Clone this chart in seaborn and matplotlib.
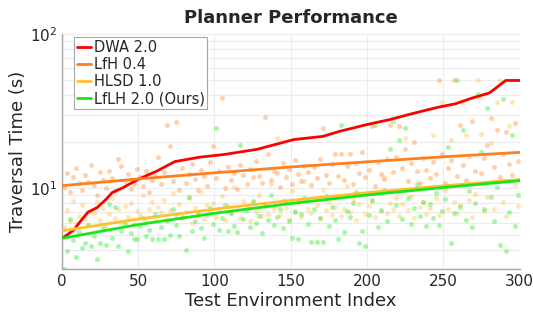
import numpy as np
import pandas as pd
import matplotlib
matplotlib.use("Agg")
import matplotlib.pyplot as plt
import seaborn as sns
from matplotlib.ticker import NullFormatter

# scatter samples (every 2nd environment)
env_idx = np.arange(1, 300, 2)

lfh_times = [10.2, 12.5, 9.4, 11.8, 13.6, 10.8, 9.8, 12.2, 11.0, 14.2,
             10.5, 9.1, 12.8, 11.3, 10.0, 13.0, 11.6, 9.6, 15.6, 13.9,
             11.2, 12.4, 9.9, 10.7, 13.3, 11.9, 10.3, 12.9, 9.5, 11.4,
             12.1, 16.0, 10.6, 12.7, 25.9, 18.7, 11.1, 27.0, 9.8, 13.5,
             10.9, 12.3, 14.4, 11.5, 9.7, 13.1, 12.0, 10.4, 14.8, 18.7,
             11.7, 12.9, 38.7, 10.1, 13.8, 11.3, 12.5, 9.9, 14.1, 12.2,
             10.6, 13.4, 11.8, 15.0, 12.1, 10.8, 29.1, 16.6, 11.4, 13.0,
             12.6, 10.2, 14.6, 11.9, 13.3, 10.7, 15.2, 12.4, 11.1, 14.0,
             12.8, 10.5, 13.7, 11.6, 15.4, 24.7, 12.2, 10.9, 14.3, 16.6,
             12.0, 16.6, 11.3, 13.9, 16.6, 10.6, 14.7, 12.5, 17.1, 11.8,
             13.2, 25.2, 10.4, 14.9, 12.3, 11.5, 15.6, 25.9, 12.7, 16.0,
             25.2, 13.6, 17.9, 11.2, 14.5, 20.0, 12.9, 10.8, 15.8, 13.1,
             11.7, 14.8, 12.4, 50.0, 16.6, 10.9, 13.5, 15.3, 50.0, 12.1,
             25.9, 14.2, 11.4, 16.3, 27.5, 13.0, 39.0, 12.6, 15.7, 19.2,
             28.7, 13.8, 24.0, 11.9, 16.8, 23.3, 14.4, 12.2, 26.7, 15.1]

hlsd_times = [5.6, 7.2, 6.1, 8.3, 5.9, 6.6, 7.8, 6.3, 5.8, 7.0,
              6.9, 8.1, 6.2, 7.5, 5.7, 6.8, 8.6, 6.4, 7.3, 6.0,
              7.7, 6.5, 8.0, 5.9, 7.1, 6.7, 9.0, 6.2, 7.4, 8.2,
              6.3, 7.6, 6.9, 8.4, 6.1, 7.2, 9.3, 6.6, 7.9, 6.4,
              7.0, 8.7, 6.0, 7.5, 6.8, 9.5, 6.3, 7.8, 7.1, 8.0,
              6.5, 7.4, 8.9, 6.2, 7.7, 6.9, 10.2, 7.2, 6.4, 8.3,
              7.6, 6.1, 8.1, 7.0, 9.1, 6.6, 7.9, 6.8, 10.6, 7.3,
              21.3, 6.7, 8.4, 7.5, 6.3, 9.6, 7.1, 8.0, 6.5, 11.2,
              7.4, 6.9, 8.6, 7.8, 6.4, 9.8, 7.2, 8.2, 6.7, 7.6,
              8.8, 6.6, 7.3, 10.4, 7.0, 8.5, 6.2, 7.9, 9.2, 6.8,
              7.7, 8.3, 6.5, 9.4, 7.1, 11.8, 6.9, 8.0, 7.4, 8.7,
              6.6, 7.9, 21.3, 7.2, 8.9, 6.4, 10.1, 7.6, 8.2, 6.8,
              7.5, 22.0, 8.6, 6.7, 36.4, 9.7, 7.3, 20.7, 8.1, 6.9,
              7.8, 35.9, 22.0, 8.4, 6.5, 9.2, 50.0, 22.6, 7.1, 8.8,
              19.8, 7.4, 36.4, 50.0, 8.1, 6.6, 25.2, 36.4, 10.5, 7.7]

lflh_times = [3.0, 3.9, 6.3, 4.6, 3.6, 5.2, 4.1, 4.4, 5.8, 4.2,
              4.9, 3.5, 4.4, 5.5, 4.3, 7.9, 4.8, 7.6, 4.2, 5.3,
              6.0, 3.9, 5.1, 4.7, 4.7, 5.7, 6.4, 4.9, 5.4, 4.7,
              6.8, 4.7, 5.6, 4.7, 6.2, 5.0, 7.3, 5.8, 4.9, 6.5,
              4.0, 8.8, 5.3, 6.1, 7.0, 5.5, 4.8, 6.7, 7.5, 5.9,
              24.7, 5.4, 6.4, 7.8, 5.3, 6.9, 5.7, 5.2, 19.2, 6.3,
              7.2, 5.6, 8.3, 6.0, 6.6, 5.1, 7.7, 6.2, 9.0, 5.8,
              6.5, 7.4, 5.5, 8.1, 6.1, 4.8, 7.0, 4.7, 6.8, 8.6,
              5.9, 4.5, 7.3, 4.5, 6.4, 4.5, 8.9, 5.7, 7.6, 6.2,
              4.7, 25.9, 5.2, 7.1, 6.5, 8.0, 9.5, 4.4, 5.3, 4.2,
              6.7, 8.4, 25.9, 5.6, 7.2, 9.8, 6.1, 17.9, 27.5, 7.8,
              20.7, 6.3, 24.7, 8.7, 5.9, 7.5, 10.6, 6.6, 8.2, 5.7,
              7.9, 6.4, 9.3, 5.8, 7.1, 8.5, 18.4, 4.4, 6.9, 50.0,
              7.6, 24.0, 6.2, 9.6, 5.6, 8.0, 41.0, 17.1, 7.3, 33.3,
              8.8, 6.1, 10.2, 4.3, 38.0, 3.9, 7.0, 22.0, 5.7, 9.1]

# DWA sorted traversal time curve
dwa_idx = [1, 8, 12, 17, 23, 29, 33, 40, 46, 53, 62, 74, 90, 107, 128, 152,
           171, 182, 200, 215, 227, 236, 247, 258, 269, 280, 283, 291, 300]
dwa_val = [4.8, 5.4, 6.1, 7.0, 7.5, 8.5, 9.4, 10.1, 10.9, 11.8, 12.9, 14.9,
           15.9, 16.6, 17.9, 20.7, 21.7, 23.4, 25.9, 27.9, 30.0, 31.6, 33.6,
           35.3, 38.5, 41.4, 43.5, 50.0, 50.0]

# trend lines of the other planners
fit_idx = [0, 50, 100, 150, 200, 250, 300]
lfh_fit = [10.4, 11.5, 12.6, 13.75, 14.85, 16.0, 17.1]
hlsd_fit = [5.3, 6.32, 7.33, 8.35, 9.37, 10.38, 11.4]
lflh_fit = [4.74, 5.82, 6.89, 7.97, 9.05, 10.12, 11.2]

c_red = "#ff0000"
c_orange = "#ff7f1f"
c_yellow = "#ffbf33"
c_green = "#19e619"

sns.set_style("white")
plt.rcParams["font.family"] = ["DejaVu Sans"]

fig, ax = plt.subplots(figsize=(5.33, 3.16), dpi=100)
fig.subplots_adjust(left=0.1163, right=0.9747, bottom=0.1487, top=0.8924)

for vals, col in [(lfh_times, c_orange), (hlsd_times, c_yellow), (lflh_times, c_green)]:
    sns.scatterplot(x=env_idx, y=vals, color=col, alpha=0.36, s=13,
                    linewidth=0, legend=False, ax=ax, zorder=2)

sns.lineplot(x=dwa_idx, y=dwa_val, color=c_red, lw=2, label="DWA 2.0", ax=ax, zorder=4)
sns.lineplot(x=fit_idx, y=lfh_fit, color=c_orange, lw=2, label="LfH 0.4", ax=ax, zorder=4)
sns.lineplot(x=fit_idx, y=hlsd_fit, color=c_yellow, lw=2, label="HLSD 1.0", ax=ax, zorder=4)
sns.lineplot(x=fit_idx, y=lflh_fit, color=c_green, lw=2, label="LfLH 2.0 (Ours)", ax=ax, zorder=4)

ax.set_yscale("log")
ax.set_ylim(3, 100)
ax.set_xlim(0, 300)
ax.set_xticks(range(0, 301, 50))
ax.yaxis.set_minor_formatter(NullFormatter())
ax.grid(True, which="both", color="#ececec", lw=0.8)
ax.set_axisbelow(True)

for s in ["top", "right"]:
    ax.spines[s].set_visible(False)
for s in ["left", "bottom"]:
    ax.spines[s].set_color("#a6a6a6")
    ax.spines[s].set_linewidth(1.0)
ax.tick_params(which="both", direction="in", colors="#a6a6a6",
               labelcolor="#262626", labelsize=11)
ax.tick_params(which="major", length=4)
ax.tick_params(which="minor", length=2.5)

ax.set_title("Planner Performance", fontsize=13, fontweight="bold", pad=8)
ax.set_xlabel("Test Environment Index", fontsize=13, color="#262626", labelpad=2)
ax.set_ylabel("Traversal Time (s)", fontsize=13, color="#262626", labelpad=2)

leg = ax.legend(loc="upper left", bbox_to_anchor=(0.026, 0.987), borderaxespad=0,
                fontsize=10.5, handlelength=1.0, handletextpad=0.15,
                labelspacing=0.15, borderpad=0.2, fancybox=False, framealpha=1)
leg.get_frame().set_edgecolor("#a6a6a6")
leg.get_frame().set_linewidth(0.8)

fig.savefig("out.png", dpi=100)
